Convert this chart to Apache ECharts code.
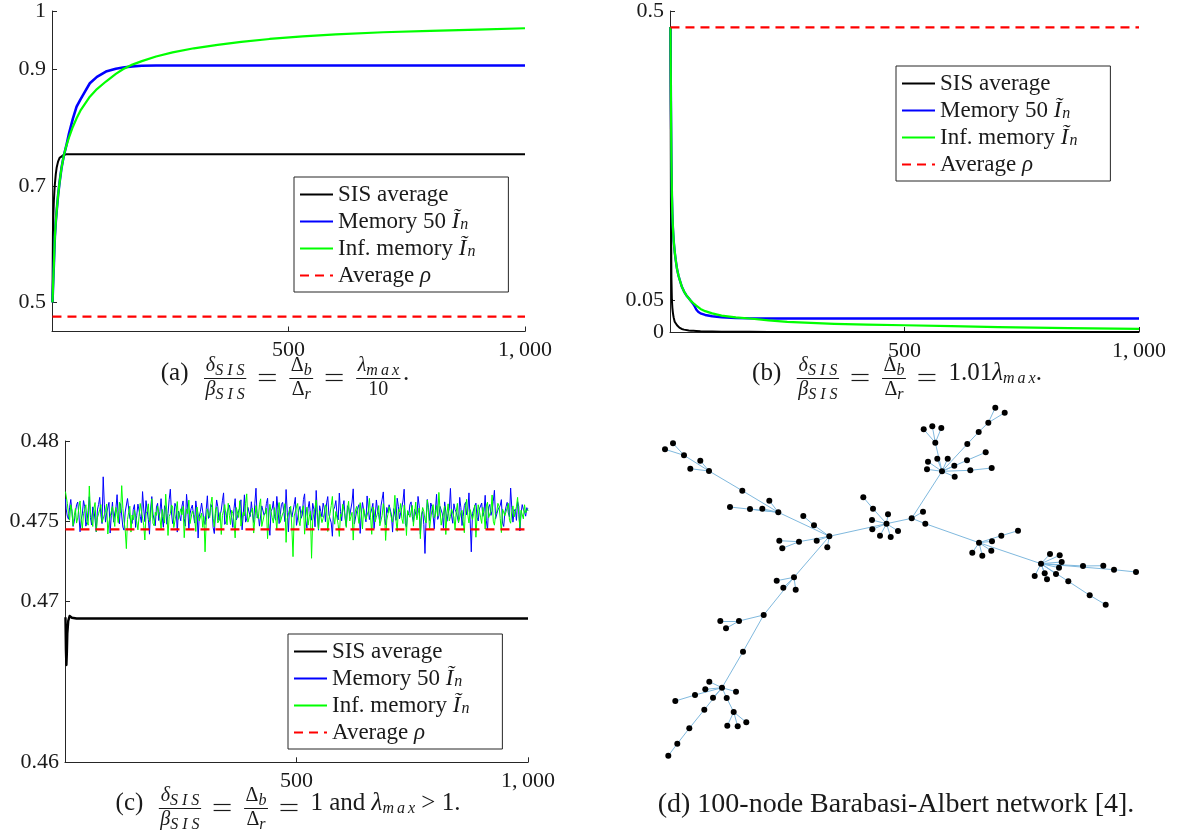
<!DOCTYPE html>
<html>
<head>
<meta charset="utf-8">
<script src="https://cdn.jsdelivr.net/npm/echarts@6/dist/echarts.min.js"></script>
<style>
  html, body { margin: 0; padding: 0; background: #ffffff; }
  #chart { width: 1181px; height: 833px; }
</style>
</head>
<body>
<div id="chart"></div>
<script>
// ---------------- (a) delta/beta = lambda_max / 10 ----------------
const aSteps = [1, 2, 3, 4, 5, 6, 8, 10, 13, 16, 20, 25, 30, 36, 44, 52, 60, 70, 80, 95, 114, 135, 150, 170, 190, 220, 255, 300, 350, 400, 460, 530, 600, 700, 800, 900, 1000];
const aSis   = [0.500, 0.620, 0.652, 0.675, 0.690, 0.702, 0.720, 0.732, 0.742, 0.748, 0.751, 0.753, 0.754,
  0.754, 0.754, 0.754, 0.754, 0.754, 0.754, 0.754, 0.754, 0.754, 0.754, 0.754, 0.754, 0.754, 0.754, 0.754, 0.754, 0.754, 0.754, 0.754, 0.754, 0.754, 0.754, 0.754, 0.754];
const aMem50 = [0.500, 0.522, 0.545, 0.566, 0.590, 0.612, 0.638, 0.658, 0.685, 0.706, 0.730, 0.752, 0.768,
  0.790, 0.815, 0.836, 0.848, 0.862, 0.876, 0.887, 0.896, 0.901, 0.903, 0.905, 0.906, 0.9065, 0.9065, 0.9065, 0.9065, 0.9065, 0.9065, 0.9065, 0.9065, 0.9065, 0.9065, 0.9065, 0.9065];
const aInf   = [0.500, 0.522, 0.545, 0.566, 0.590, 0.612, 0.638, 0.658, 0.685, 0.706, 0.730, 0.752, 0.768,
  0.783, 0.801, 0.816, 0.829, 0.841, 0.853, 0.866, 0.879, 0.892, 0.900, 0.908, 0.914, 0.922, 0.929, 0.936, 0.942, 0.947, 0.952, 0.9565, 0.960, 0.9635, 0.966, 0.968, 0.9704];
const aRhoSteps = [1, 1000];
const aRho   = [0.4754, 0.4754];
const aYTicks = [0.5, 0.7, 0.9, 1];

// ---------------- (b) delta/beta = 1.01 lambda_max ----------------
const bSteps = [1, 2, 3, 4, 5, 6, 7, 8, 10, 12, 15, 18, 20, 25, 30, 35, 40, 45, 48, 50, 53, 56, 60, 65, 75, 90, 110, 140, 170, 210, 250, 300, 350, 420, 500, 600, 700, 850, 1000];
const bSis   = [0.475, 0.200, 0.085, 0.050, 0.038, 0.031, 0.026, 0.022, 0.016, 0.0135, 0.0105, 0.0080, 0.0068, 0.0047, 0.0037, 0.0030, 0.0025, 0.0021, 0.0019,
  0.0018, 0.0016, 0.0015, 0.0013, 0.0011, 0.0009, 0.0006, 0.0004, 0.0003, 0.0002, 0.00015, 0.0001, 0, 0, 0, 0, 0, 0, 0, 0];
const bMem50 = [0.475, 0.360, 0.270, 0.215, 0.185, 0.166, 0.152, 0.141, 0.125, 0.113, 0.098, 0.088, 0.083, 0.071, 0.063, 0.057, 0.0525, 0.048, 0.046,
  0.043, 0.0394, 0.035, 0.0316, 0.029, 0.0265, 0.0245, 0.0229, 0.0218, 0.0212, 0.0210, 0.0210, 0.0210, 0.0210, 0.0210, 0.0210, 0.0210, 0.0210, 0.0210, 0.0210];
const bInf   = [0.475, 0.360, 0.270, 0.215, 0.185, 0.166, 0.152, 0.141, 0.125, 0.113, 0.098, 0.088, 0.083, 0.071, 0.063, 0.057, 0.0525, 0.048, 0.046,
  0.0448, 0.0428, 0.041, 0.038, 0.036, 0.0325, 0.029, 0.0255, 0.0228, 0.021, 0.018, 0.0158, 0.0142, 0.0128, 0.0115, 0.0105, 0.009, 0.0075, 0.006, 0.0048];
const bRhoSteps = [1, 1000];
const bRho   = [0.4746, 0.4746];
const bYTicks = [0, 0.05, 0.5];

// ---------------- (c) delta/beta = 1, lambda_max > 1 ----------------
const cSisSteps = [1, 2, 3, 4, 5, 7, 10, 15, 25, 1000];
const cSis   = [0.46903, 0.4670, 0.46606, 0.4668, 0.4680, 0.4688, 0.46911, 0.46900, 0.46895, 0.46895];
// noisy estimates at step 1, then every 2.5 steps up to 1000
const cMem50 = [0.47640,
  0.47577, 0.47532, 0.47513, 0.47588, 0.47636, 0.47561, 0.47468, 0.47497, 0.47555, 0.47603, 0.47620, 0.47541, 0.47435, 0.47512, 0.47546, 0.47629, 0.47591, 0.47470, 0.47499, 0.47566,
  0.47653, 0.47524, 0.47477, 0.47590, 0.47568, 0.47508, 0.47435, 0.47571, 0.47605, 0.47649, 0.47540, 0.47486, 0.47777, 0.47603, 0.47495, 0.47552, 0.47563, 0.47618, 0.47427, 0.47537,
  0.47620, 0.47495, 0.47552, 0.47581, 0.47666, 0.47527, 0.47484, 0.47610, 0.47599, 0.47463, 0.47445, 0.47558, 0.47557, 0.47642, 0.47633, 0.47519, 0.47510, 0.47487, 0.47575, 0.47604,
  0.47462, 0.47538, 0.47607, 0.47565, 0.47531, 0.47492, 0.47685, 0.47577, 0.47498, 0.47629, 0.47566, 0.47511, 0.47420, 0.47583, 0.47654, 0.47545, 0.47543, 0.47473, 0.47589, 0.47612,
  0.47505, 0.47560, 0.47641, 0.47528, 0.47463, 0.47597, 0.47577, 0.47482, 0.47549, 0.47635, 0.47700, 0.47552, 0.47486, 0.47521, 0.47612, 0.47590, 0.47433, 0.47564, 0.47558, 0.47503,
  0.47594, 0.47627, 0.47517, 0.47470, 0.47668, 0.47583, 0.47452, 0.47546, 0.47580, 0.47601, 0.47543, 0.47489, 0.47627, 0.47568, 0.47396, 0.47532, 0.47563, 0.47614, 0.47605, 0.47507,
  0.47480, 0.47573, 0.47659, 0.47518, 0.47537, 0.47605, 0.47587, 0.47461, 0.47424, 0.47549, 0.47633, 0.47592, 0.47506, 0.47537, 0.47570, 0.47628, 0.47677, 0.47481, 0.47495, 0.47556,
  0.47553, 0.47601, 0.47610, 0.47524, 0.47462, 0.47579, 0.47641, 0.47508, 0.47528, 0.47566, 0.47584, 0.47634, 0.47447, 0.47542, 0.47665, 0.47495, 0.47514, 0.47587, 0.47576, 0.47530,
  0.47622, 0.47549, 0.47493, 0.47613, 0.47706, 0.47521, 0.47540, 0.47470, 0.47471, 0.47596, 0.47597, 0.47538, 0.47555, 0.47610, 0.47644, 0.47487, 0.47413, 0.47563, 0.47578, 0.47625,
  0.47531, 0.47507, 0.47655, 0.47572, 0.47486, 0.47541, 0.47605, 0.47618, 0.47563, 0.47498, 0.47698, 0.47557, 0.47435, 0.47589, 0.47582, 0.47526, 0.47520, 0.47603, 0.47649, 0.47475,
  0.47477, 0.47568, 0.47593, 0.47519, 0.47540, 0.47636, 0.47671, 0.47502, 0.47458, 0.47581, 0.47624, 0.47547, 0.47507, 0.47612, 0.47575, 0.47466, 0.47692, 0.47553, 0.47445, 0.47597,
  0.47561, 0.47528, 0.47613, 0.47584, 0.47498, 0.47615, 0.47654, 0.47540, 0.47536, 0.47491, 0.47407, 0.47572, 0.47590, 0.47629, 0.47545, 0.47509, 0.47676, 0.47561, 0.47503, 0.47588,
  0.47629, 0.47516, 0.47470, 0.47597, 0.47584, 0.47536, 0.47548, 0.47620, 0.47702, 0.47483, 0.47492, 0.47565, 0.47566, 0.47604, 0.47425, 0.47544, 0.47617, 0.47572, 0.47539, 0.47497,
  0.47658, 0.47583, 0.47511, 0.47549, 0.47577, 0.47612, 0.47455, 0.47526, 0.47633, 0.47570, 0.47542, 0.47491, 0.47596, 0.47638, 0.47683, 0.47517, 0.47477, 0.47586, 0.47554, 0.47603,
  0.47605, 0.47541, 0.47433, 0.47579, 0.47568, 0.47506, 0.47644, 0.47593, 0.47516, 0.47552, 0.47587, 0.47627, 0.47700, 0.47484, 0.47464, 0.47561, 0.47539, 0.47605, 0.47621, 0.47530,
  0.47496, 0.47574, 0.47577, 0.47520, 0.47655, 0.47596, 0.47420, 0.47543, 0.47563, 0.47481, 0.47300, 0.47522, 0.47636, 0.47588, 0.47505, 0.47614, 0.47591, 0.47537, 0.47453, 0.47569,
  0.47668, 0.47512, 0.47534, 0.47593, 0.47582, 0.47547, 0.47457, 0.47621, 0.47620, 0.47500, 0.47547, 0.47578, 0.47705, 0.47533, 0.47488, 0.47609, 0.47573, 0.47556, 0.47526, 0.47492,
  0.47649, 0.47585, 0.47474, 0.47531, 0.47598, 0.47618, 0.47540, 0.47563, 0.47677, 0.47509, 0.47310, 0.47548, 0.47555, 0.47596, 0.47613, 0.47523, 0.47502, 0.47577, 0.47586, 0.47614,
  0.47531, 0.47560, 0.47662, 0.47503, 0.47446, 0.47589, 0.47605, 0.47537, 0.47567, 0.47624, 0.47693, 0.47516, 0.47509, 0.47571, 0.47580, 0.47598, 0.47635, 0.47489, 0.47468, 0.47552,
  0.47590, 0.47618, 0.47552, 0.47527, 0.47707, 0.47584, 0.47495, 0.47561, 0.47576, 0.47506, 0.47623, 0.47593, 0.47440, 0.47548, 0.47604, 0.47575, 0.47557, 0.47532, 0.47585, 0.47566];
const cInf = [0.47685,
  0.47690, 0.47612, 0.47548, 0.47507, 0.47603, 0.47566, 0.47472, 0.47535, 0.47580, 0.47489, 0.47521, 0.47590, 0.47627, 0.47514, 0.47455, 0.47548, 0.47571, 0.47603, 0.47498, 0.47476,
  0.47720, 0.47559, 0.47512, 0.47468, 0.47583, 0.47617, 0.47436, 0.47522, 0.47547, 0.47575, 0.47604, 0.47493, 0.47489, 0.47540, 0.47566, 0.47608, 0.47421, 0.47497, 0.47530, 0.47562,
  0.47592, 0.47520, 0.47468, 0.47586, 0.47545, 0.47492, 0.47619, 0.47554, 0.47722, 0.47581, 0.47502, 0.47447, 0.47330, 0.47511, 0.47556, 0.47594, 0.47433, 0.47539, 0.47508, 0.47570,
  0.47575, 0.47498, 0.47447, 0.47532, 0.47611, 0.47563, 0.47520, 0.47476, 0.47384, 0.47547, 0.47563, 0.47609, 0.47498, 0.47523, 0.47640, 0.47488, 0.47472, 0.47556, 0.47537, 0.47595,
  0.47601, 0.47517, 0.47455, 0.47574, 0.47528, 0.47489, 0.47669, 0.47551, 0.47412, 0.47530, 0.47548, 0.47602, 0.47589, 0.47461, 0.47470, 0.47545, 0.47623, 0.47512, 0.47506, 0.47578,
  0.47541, 0.47593, 0.47398, 0.47515, 0.47577, 0.47548, 0.47632, 0.47486, 0.47489, 0.47564, 0.47553, 0.47527, 0.47437, 0.47589, 0.47600, 0.47503, 0.47515, 0.47551, 0.47462, 0.47530,
  0.47310, 0.47497, 0.47578, 0.47544, 0.47524, 0.47606, 0.47651, 0.47519, 0.47466, 0.47572, 0.47590, 0.47490, 0.47503, 0.47555, 0.47418, 0.47537, 0.47566, 0.47604, 0.47537, 0.47478,
  0.47612, 0.47538, 0.47480, 0.47569, 0.47549, 0.47501, 0.47397, 0.47586, 0.47583, 0.47524, 0.47628, 0.47470, 0.47459, 0.47557, 0.47534, 0.47612, 0.47671, 0.47495, 0.47501, 0.47546,
  0.47563, 0.47583, 0.47427, 0.47510, 0.47598, 0.47549, 0.47515, 0.47603, 0.47640, 0.47468, 0.47472, 0.47536, 0.47549, 0.47582, 0.47392, 0.47520, 0.47606, 0.47561, 0.47523, 0.47489,
  0.47585, 0.47528, 0.47446, 0.47575, 0.47617, 0.47493, 0.47503, 0.47547, 0.47560, 0.47610, 0.47369, 0.47516, 0.47528, 0.47572, 0.47594, 0.47458, 0.47280, 0.47533, 0.47540, 0.47590,
  0.47611, 0.47506, 0.47473, 0.47551, 0.47556, 0.47597, 0.47420, 0.47529, 0.47588, 0.47476, 0.47527, 0.47563, 0.47270, 0.47508, 0.47499, 0.47585, 0.47632, 0.47521, 0.47451, 0.47566,
  0.47574, 0.47492, 0.47518, 0.47547, 0.47603, 0.47580, 0.47437, 0.47513, 0.47549, 0.47598, 0.47655, 0.47530, 0.47482, 0.47561, 0.47570, 0.47479, 0.47406, 0.47544, 0.47531, 0.47606,
  0.47597, 0.47535, 0.47462, 0.47571, 0.47625, 0.47502, 0.47508, 0.47556, 0.47383, 0.47519, 0.47571, 0.47593, 0.47540, 0.47487, 0.47616, 0.47548, 0.47453, 0.47580, 0.47588, 0.47512,
  0.47502, 0.47563, 0.47643, 0.47524, 0.47419, 0.47589, 0.47567, 0.47497, 0.47526, 0.47551, 0.47598, 0.47472, 0.47470, 0.47537, 0.47610, 0.47565, 0.47381, 0.47508, 0.47544, 0.47591,
  0.47583, 0.47520, 0.47495, 0.47558, 0.47662, 0.47503, 0.47438, 0.47574, 0.47559, 0.47611, 0.47517, 0.47486, 0.47601, 0.47542, 0.47412, 0.47567, 0.47574, 0.47525, 0.47535, 0.47599,
  0.47470, 0.47548, 0.47620, 0.47509, 0.47548, 0.47583, 0.47392, 0.47536, 0.47586, 0.47562, 0.47509, 0.47490, 0.47633, 0.47557, 0.47455, 0.47521, 0.47567, 0.47604, 0.47521, 0.47545,
  0.47598, 0.47531, 0.47680, 0.47575, 0.47476, 0.47518, 0.47553, 0.47596, 0.47418, 0.47549, 0.47609, 0.47503, 0.47530, 0.47577, 0.47584, 0.47526, 0.47447, 0.47562, 0.47612, 0.47494,
  0.47503, 0.47554, 0.47568, 0.47497, 0.47429, 0.47588, 0.47637, 0.47540, 0.47490, 0.47573, 0.47572, 0.47511, 0.47545, 0.47602, 0.47401, 0.47532, 0.47603, 0.47565, 0.47526, 0.47487,
  0.47587, 0.47549, 0.47452, 0.47596, 0.47619, 0.47523, 0.47511, 0.47567, 0.47664, 0.47501, 0.47476, 0.47541, 0.47558, 0.47612, 0.47593, 0.47518, 0.47430, 0.47577, 0.47571, 0.47535,
  0.47540, 0.47584, 0.47612, 0.47506, 0.47488, 0.47559, 0.47596, 0.47527, 0.47523, 0.47590, 0.47649, 0.47541, 0.47462, 0.47569, 0.47575, 0.47515, 0.47603, 0.47553, 0.47560, 0.47578];
const cRhoSteps = [1, 1000];
const cRho   = [0.4745, 0.4745];
const cYTicks = [0.46, 0.47, 0.475, 0.48];

const xTicks = [500, 1000];
const xTickText = ['500', '1,\u2009000'];

// ---------------- (d) 100-node Barabasi-Albert tree (layout units) ----------------
const netX = [13, 5, 24, 40.3, 30.3, 49, 82.3, 109.3, 70, 90, 102.3, 118.3, 143.3, 154, 169.3, 119.3, 139, 156.7, 122.3, 167.3,
  203.3, 213, 228, 212, 226.5, 212.3, 238, 220, 230.7, 251.7, 263, 265.3,
  282, 275.3, 263.7, 272.3, 281.3, 268, 277.3, 287.7, 267, 294.3, 294.7, 307, 325.7, 310.3, 331.7, 307.3, 318.7, 328.3, 335.3, 344.7,
  319, 312.3, 322.3, 331.3, 332, 341.3, 358,
  381, 390, 399.7, 401.7, 399, 374.7, 384.7, 387, 396, 423, 443.3, 454, 476, 408.3, 429.7, 445.7,
  134, 116.7, 123.3, 135.7, 103.7, 79, 60.3, 66, 83, 62, 49.3, 45.3, 35, 15.3, 53, 76, 66.7, 73.7, 67.3, 77.7, 86.3, 44.3, 29.3, 17.3, 8.3];
const netY = [43.3, 49.3, 55.3, 60.7, 68.7, 71, 90.7, 100.7, 107, 109, 108.7, 112.3, 116, 125.3, 136.3, 140.7, 141.7, 140.7, 148.3, 147.3,
  97.3, 108.7, 114.3, 120, 123.7, 129.3, 131, 135.7, 137, 118.3, 111.7, 123.7,
  71.3, 42.7, 29.3, 26.3, 28, 61.7, 58.7, 58.7, 69.3, 65.7, 76.7, 60.3, 52.3, 70.3, 68, 44, 32, 22.7, 7.7, 12.7,
  142.7, 152.7, 155.7, 150.7, 141.3, 135.7, 130.7,
  163.7, 154, 155.3, 162, 167.7, 176, 173.3, 179.3, 174, 166, 165.7, 169.7, 172, 181.3, 195.3, 204.7,
  177.3, 180.7, 187.7, 189.7, 215, 221, 221, 228.3, 251.7, 287.7, 281.7, 289.3, 295, 301, 297.7, 291.7, 298, 312, 325.7, 326.3, 322.3, 309.7, 328.3, 343.7, 355.7];
const netLinks = [
  [0, 2], [1, 2], [2, 5], [3, 5], [4, 5], [5, 6], [6, 11], [7, 11], [8, 11], [9, 11], [10, 11], [11, 14], [12, 13], [13, 14],
  [15, 16], [18, 16], [16, 14], [17, 14], [19, 14], [14, 24], [14, 75],
  [20, 21], [21, 24], [22, 24], [23, 24], [25, 24], [26, 24], [27, 24], [28, 24], [24, 29],
  [29, 30], [29, 31], [31, 52], [29, 32],
  [33, 32], [34, 33], [35, 33], [36, 33], [37, 32], [38, 32], [39, 32], [40, 32], [41, 32], [42, 32], [43, 32], [44, 43],
  [45, 32], [46, 45], [47, 32], [48, 47], [49, 48], [50, 49], [51, 49],
  [53, 52], [54, 52], [55, 52], [56, 52], [57, 52], [58, 57], [52, 59],
  [60, 59], [61, 59], [62, 59], [63, 59], [64, 59], [65, 59], [66, 59], [67, 59], [68, 59], [69, 68], [70, 59], [71, 70],
  [72, 59], [73, 72], [74, 73],
  [75, 76], [75, 77], [75, 78], [75, 79], [79, 80], [80, 81], [80, 82], [79, 83], [83, 84], [84, 85], [84, 86], [84, 87],
  [87, 88], [84, 89], [84, 90], [84, 91], [91, 92], [92, 93], [92, 94], [92, 95], [84, 96], [96, 97], [97, 98], [98, 99]];

// ---------------- styling helpers ----------------
const SERIF = '"Liberation Serif", "Times New Roman", serif';
const INK = '#1a1a1a';
const AXIS = '#262626';
const BLUE = '#0000ff', GREEN = '#00ff00', RED = '#ff0000', BLACK = '#000000';

const pairs = (xs, ys) => xs.map((x, i) => [x, ys[i]]);
const cSteps = [1];
for (let k = 1; k <= 400; k++) cSteps.push(k * 2.5);

function xAxisFor(gridIndex) {
  return {
    gridIndex, type: 'value', min: 0, max: 1000,
    axisLine: { show: true, onZero: false, lineStyle: { color: AXIS, width: 1 } },
    axisTick: { show: true, inside: true, length: 5, customValues: xTicks, lineStyle: { color: AXIS } },
    axisLabel: { customValues: xTicks, formatter: v => xTickText[xTicks.indexOf(v)],
      fontSize: 22, fontFamily: SERIF, color: INK, margin: 8 },
    splitLine: { show: false }
  };
}
function yAxisFor(gridIndex, min, max, ticks) {
  return {
    gridIndex, type: 'value', min, max,
    axisLine: { show: true, onZero: false, lineStyle: { color: AXIS, width: 1 } },
    axisTick: { show: true, inside: true, length: 5, customValues: ticks, lineStyle: { color: AXIS } },
    axisLabel: { customValues: ticks, formatter: v => String(v),
      fontSize: 22, fontFamily: SERIF, color: INK, margin: 6 },
    splitLine: { show: false }
  };
}
function line(name, idx, data, color, width, dashed) {
  return {
    name, type: 'line', xAxisIndex: idx, yAxisIndex: idx, data,
    showSymbol: false, symbol: 'none', smooth: false,
    lineStyle: { color, width, type: dashed ? [9, 6] : 'solid', cap: 'butt', join: 'round' },
    itemStyle: { color }, silent: true
  };
}

// legend labels with a tilde-I and subscript n
const legendLabel = {
  sis: 'SIS average',
  m50: 'Memory 50 {v|Ĩ}{n|n}',
  inf: 'Inf. memory {v|Ĩ}{n|n}',
  rho: 'Average {v|ρ}'
};
function legendFor(prefix, left, top) {
  return {
    data: ['sis', 'm50', 'inf', 'rho'].map(k => prefix + '-' + k),
    orient: 'vertical', left, top,
    itemWidth: 33, itemHeight: 12, itemGap: 4,
    padding: [6, 33, 5, 5],
    backgroundColor: '#ffffff', borderColor: AXIS, borderWidth: 1, borderRadius: 0,
    selectedMode: false,
    itemStyle: { opacity: 0, borderWidth: 0 },
    formatter: name => legendLabel[name.split('-')[1]],
    textStyle: {
      fontFamily: SERIF, fontSize: 23, color: INK, lineHeight: 23,
      rich: {
        v: { fontFamily: SERIF, fontSize: 23, fontStyle: 'italic', color: INK, lineHeight: 23 },
        n: { fontFamily: SERIF, fontSize: 16, fontStyle: 'italic', color: INK, lineHeight: 16, padding: [7, 0, 0, 1] }
      }
    }
  };
}

// ---------------- captions with stacked fractions ----------------
const measure = document.createElement('canvas').getContext('2d');
function tw(t, size, itl) {
  measure.font = (itl ? 'italic ' : '') + size + 'px ' + SERIF;
  return measure.measureText(t).width;
}
const CAP = 25, FR = 20, SUB = 16;
const up = (t, size, dy) => ({ t, size: size || CAP, it: false, dy: dy || 0, sp: 0 });
const it = (t, size, dy, sp) => ({ t, size: size || CAP, it: true, dy: dy || 0, sp: sp || 0 });
const atomW = a => a.sp ? [...a.t].reduce((s, c) => s + tw(c, a.size, a.it), 0) + a.sp * (a.t.length - 1)
  : tw(a.t, a.size, a.it);
const runW = run => run.reduce((s, a) => s + atomW(a), 0);
function textEl(t, x, y, a) {
  return { type: 'text', x, y, silent: true,
    style: { text: t, fontSize: a.size, fontStyle: a.it ? 'italic' : 'normal', fontFamily: SERIF,
      fill: INK, verticalAlign: 'middle', align: 'left' } };
}
function runEls(run, x, y) {
  const els = [];
  let cx = x;
  run.forEach(a => {
    if (a.sp) {
      [...a.t].forEach(c => { els.push(textEl(c, cx, y + a.dy, a)); cx += tw(c, a.size, a.it) + a.sp; });
      cx -= a.sp;
    } else {
      els.push(textEl(a.t, cx, y + a.dy, a));
      cx += atomW(a);
    }
  });
  return els;
}
const hline = (x1, x2, y, w) => ({ type: 'line', silent: true, shape: { x1, y1: y, x2, y2: y },
  style: { stroke: INK, lineWidth: w || 1 } });
function caption(items, cx, y0) {
  const widths = items.map(p => p.gap != null ? p.gap : p.eq ? 19 : p.run ? runW(p.run)
    : Math.max(runW(p.frac[0]), runW(p.frac[1])) + 4);
  const total = widths.reduce((a, b) => a + b, 0);
  let x = cx - total / 2;
  const els = [];
  items.forEach((p, i) => {
    const w = widths[i];
    if (p.run) els.push(...runEls(p.run, x, y0 - 5));
    else if (p.eq) {
      els.push(hline(x + 1, x + w - 1, y0 - 3.5, 1.2), hline(x + 1, x + w - 1, y0 + 2.5, 1.2));
    } else if (p.frac) {
      const [n, d] = p.frac;
      els.push(...runEls(n, x + (w - runW(n)) / 2, y0 - 12));
      els.push(...runEls(d, x + (w - runW(d)) / 2, y0 + 12));
      els.push(hline(x + 0.5, x + w - 0.5, y0 + 0.5, 1));
    }
    x += w;
  });
  return els;
}
const fracSIS = { frac: [[it('δ', FR), it('SIS', SUB, 5, 4)], [it('β', FR), it('SIS', SUB, 5, 4)]] };
const fracDelta = { frac: [[up('Δ', FR), it('b', SUB, 5)], [up('Δ', FR), it('r', SUB, 5)]] };
const gap = n => ({ gap: n });
const EQ = { eq: true };
const lead = [gap(15), fracSIS, gap(11), EQ, gap(12), fracDelta, gap(11), EQ, gap(12)];

const captionA = caption([{ run: [up('(a)')] }, ...lead,
  { frac: [[it('λ', FR), it('max', SUB, 5, 3)], [up('10', FR)]] }, gap(2), { run: [up('.')] }], 285, 378);
const captionB = caption([{ run: [up('(b)')] }, ...lead,
  { run: [up('1.01'), it('λ'), it('max', SUB, 6, 3), up('.')] }], 897, 378);
const captionC = caption([{ run: [up('(c)')] }, ...lead,
  { run: [up('1 and '), it('λ'), it('max', SUB, 6, 3), up(' > 1.')] }], 288, 808);
const captionD = caption([{ run: [up('(d) 100-node Barabasi-Albert network [4].', 28)] }], 896, 810);

// ---------------- chart ----------------
const chart = echarts.init(document.getElementById('chart'), null, { renderer: 'canvas' });
chart.setOption({
  animation: false,
  backgroundColor: '#ffffff',
  grid: [
    { left: 52, top: 11, width: 473, height: 320.5 },
    { left: 670, top: 11, width: 469, height: 321 },
    { left: 65, top: 441, width: 463, height: 321.3 },
    { left: 660, top: 400, width: 480, height: 360 }
  ],
  xAxis: [xAxisFor(0), xAxisFor(1), xAxisFor(2),
    { gridIndex: 3, type: 'value', min: 0, max: 480, show: false }],
  yAxis: [yAxisFor(0, 0.45, 1, aYTicks), yAxisFor(1, 0, 0.5, bYTicks), yAxisFor(2, 0.46, 0.48, cYTicks),
    { gridIndex: 3, type: 'value', min: 0, max: 360, inverse: true, show: false }],
  legend: [legendFor('a', 294, 177), legendFor('b', 896, 66), legendFor('c', 288, 634)],
  series: [
    line('a-sis', 0, pairs(aSteps, aSis), BLACK, 2),
    line('a-m50', 0, pairs(aSteps, aMem50), BLUE, 2.6),
    line('a-inf', 0, pairs(aSteps, aInf), GREEN, 2.2),
    line('a-rho', 0, pairs(aRhoSteps, aRho), RED, 2.2, true),

    line('b-sis', 1, pairs(bSteps, bSis), BLACK, 2),
    line('b-m50', 1, pairs(bSteps, bMem50), BLUE, 2.4),
    line('b-inf', 1, pairs(bSteps, bInf), GREEN, 2.2),
    line('b-rho', 1, pairs(bRhoSteps, bRho), RED, 2.2, true),

    line('c-sis', 2, pairs(cSisSteps, cSis), BLACK, 2.4),
    line('c-m50', 2, pairs(cSteps, cMem50), BLUE, 1),
    line('c-inf', 2, pairs(cSteps, cInf), GREEN, 1),
    line('c-rho', 2, pairs(cRhoSteps, cRho), RED, 2.4, true),

    {
      type: 'graph', coordinateSystem: 'cartesian2d', xAxisIndex: 3, yAxisIndex: 3,
      data: netX.map((x, i) => ({ value: [x, netY[i]] })),
      links: netLinks.map(([s, t]) => ({ source: s, target: t })),
      symbol: 'circle', symbolSize: 6,
      itemStyle: { color: '#000000' },
      lineStyle: { color: '#80b9de', width: 1, opacity: 1, curveness: 0 },
      label: { show: false }, silent: true
    }
  ],
  graphic: { elements: [...captionA, ...captionB, ...captionC, ...captionD] }
});
</script>
</body>
</html>
